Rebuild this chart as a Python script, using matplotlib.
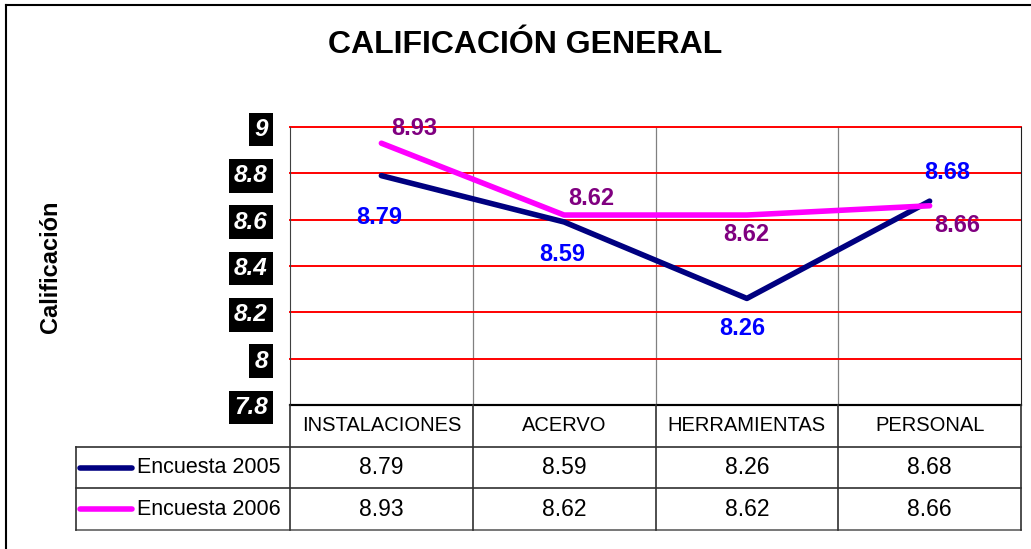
import matplotlib
matplotlib.use("Agg")
import matplotlib.pyplot as plt
from matplotlib.lines import Line2D

plt.rcParams['font.family'] = ['Liberation Sans', 'DejaVu Sans']

categories = ["INSTALACIONES", "ACERVO", "HERRAMIENTAS", "PERSONAL"]
series_names = ["Encuesta 2005", "Encuesta 2006"]
values_2005 = [8.79, 8.59, 8.26, 8.68]
values_2006 = [8.93, 8.62, 8.62, 8.66]
yticks = [7.8, 8.0, 8.2, 8.4, 8.6, 8.8, 9.0]
ytick_labels = ["7.8", "8", "8.2", "8.4", "8.6", "8.8", "9"]
title = "CALIFICACIÓN GENERAL"
ylabel = "Calificación"

line_colors = ["#000080", "#FF00FF"]
label_colors = ["#0000FF", "#800080"]
# label offsets in pixels (dx, dy) for each point
offs_2005 = [(-2, -42), (-2, -33), (-5, -30), (18, 29)]
offs_2006 = [(33, 15), (27, 17), (-1, -19), (28, -20)]

W, H = 1031, 549
fig = plt.figure(figsize=(W / 100, H / 100), dpi=100)

def rect(x0, y0, x1, y1):
    return [x0 / W, 1 - y1 / H, (x1 - x0) / W, (y1 - y0) / H]

# Figure border (top and left visible)
fig.add_artist(Line2D([6 / W, 1.0], [1 - 5 / H, 1 - 5 / H], transform=fig.transFigure, color="black", lw=1.5))
fig.add_artist(Line2D([6 / W, 6 / W], [0, 1 - 5 / H], transform=fig.transFigure, color="black", lw=1.5))

ax = fig.add_axes(rect(290, 127, 1021, 405))
x = list(range(len(categories)))
ax.set_xlim(-0.5, len(categories) - 0.5)
ax.set_ylim(7.8, 9.0)

for yv in yticks[1:]:
    ax.axhline(yv, color="#FF0000", lw=1.4, zorder=2.5, clip_on=False)
for xb in [0.5, 1.5, 2.5]:
    ax.axvline(xb, color="#808080", lw=0.9, zorder=1)

ax.plot(x, values_2005, color=line_colors[0], lw=4, solid_capstyle="round", zorder=3)
ax.plot(x, values_2006, color=line_colors[1], lw=4, solid_capstyle="round", zorder=3)

for vals, offs, col in [(values_2005, offs_2005, label_colors[0]), (values_2006, offs_2006, label_colors[1])]:
    for xi, v, (dx, dy) in zip(x, vals, offs):
        ax.annotate(f"{v:.2f}", (xi, v), xytext=(dx, dy), textcoords="offset pixels",
                    ha="center", va="center", fontsize=17, fontweight="bold", color=col, zorder=4)

ax.set_xticks([])
ax.set_yticks(yticks)
ax.set_yticklabels(ytick_labels)
ax.tick_params(axis="y", length=0, pad=16)
for t in ax.get_yticklabels():
    t.set_fontsize(17.5)
    t.set_fontweight("bold")
    t.set_fontstyle("italic")
    t.set_color("white")
    t.set_bbox(dict(facecolor="black", edgecolor="none", boxstyle="square,pad=0.22"))

ax.spines["top"].set_visible(False)
ax.spines["left"].set_color("#404040")
ax.spines["right"].set_color("#202020")
ax.spines["bottom"].set_color("black")
ax.spines["bottom"].set_linewidth(1.5)

fig.text(525 / W, 1 - 45 / H, title, ha="center", va="center", fontsize=23, fontweight="bold")
fig.text(50 / W, 1 - 267 / H, ylabel, ha="center", va="center", rotation=90, fontsize=17, fontweight="bold")

# Data table
colw = (1021 - 290) / len(categories)
legw = (290 - 76) / colw
tab = fig.add_axes(rect(76, 405, 1021, 530))
tab.set_xlim(-0.5 - legw, len(categories) - 0.5)
tab.set_ylim(3, 0)
tab.axis("off")
lc = "#303030"
tab.plot([-0.5, 3.5], [0, 0], color="black", lw=1.5, clip_on=False)
for yv in [1, 2, 3]:
    tab.plot([-0.5 - legw, 3.5], [yv, yv], color=lc if yv < 3 else "#606060", lw=1.2, clip_on=False)
for xv in [-0.5, 0.5, 1.5, 2.5, 3.5]:
    tab.plot([xv, xv], [0, 3], color=lc, lw=1.2, clip_on=False)
tab.plot([-0.5 - legw, -0.5 - legw], [1, 3], color=lc, lw=1.2, clip_on=False)

for xi, c in zip(x, categories):
    tab.text(xi, 0.5, c, ha="center", va="center", fontsize=14.5, color="black")
for r, (name, vals, col) in enumerate(zip(series_names, [values_2005, values_2006], line_colors)):
    yc = 1.5 + r
    x0 = -0.5 - legw
    tab.plot([x0 + 4 / colw, x0 + 56 / colw], [yc, yc], color=col, lw=4, solid_capstyle="round")
    tab.text(x0 + 61 / colw, yc, name, ha="left", va="center", fontsize=15.5, color="black")
    for xi, v in zip(x, vals):
        tab.text(xi, yc, f"{v:.2f}", ha="center", va="center", fontsize=16.5, color="black")

fig.savefig("out.png", dpi=100)
